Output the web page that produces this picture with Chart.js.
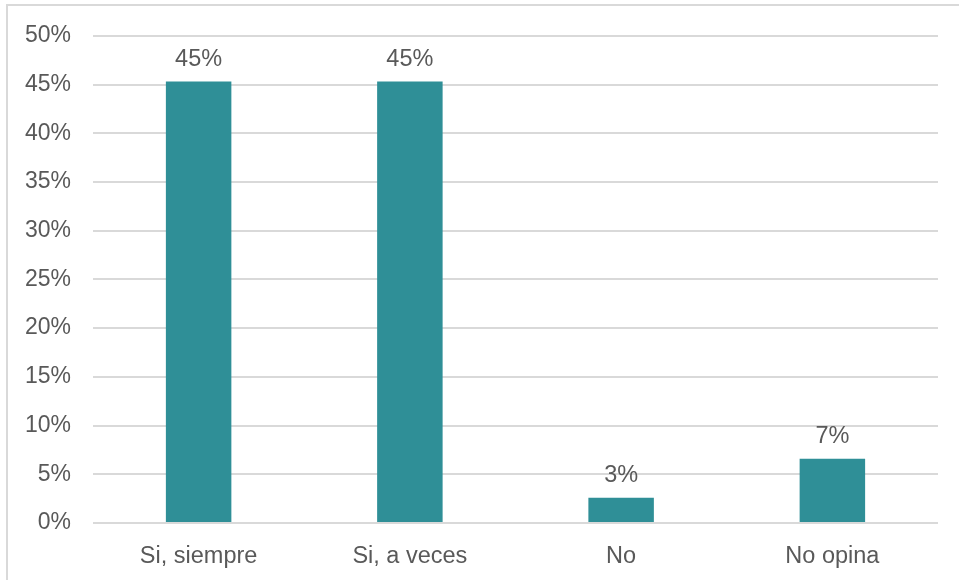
<!DOCTYPE html>
<html>
<head>
<meta charset="utf-8">
<script src="https://cdn.jsdelivr.net/npm/chart.js@4.4.1/dist/chart.umd.min.js"></script>
<style>
  html, body { margin: 0; padding: 0; background: #fff; }
  #wrap { position: relative; width: 959px; height: 580px; overflow: hidden; }
  #frame { position: absolute; left: 6px; top: 4px; width: 1000px; height: 1000px;
           border-top: 2px solid #d9d9d9; border-left: 2px solid #d9d9d9; box-sizing: border-box; }
  canvas { position: absolute; left: 0; top: 0; }
</style>
</head>
<body>
<div id="wrap">
  <div id="frame"></div>
  <canvas id="c" width="959" height="580"></canvas>
</div>
<script>
const categories = ["Si, siempre", "Si, a veces", "No", "No opina"];
const values = [45.3, 45.3, 2.6, 6.6];
const yTicks = [0, 5, 10, 15, 20, 25, 30, 35, 40, 45, 50];

const FONT = "'Liberation Sans', Arial, sans-serif";
const TEXT = "#595959";

const valueLabels = {
  id: 'valueLabels',
  afterDatasetsDraw(chart) {
    const ctx = chart.ctx;
    const meta = chart.getDatasetMeta(0);
    ctx.save();
    ctx.font = "23.5px " + FONT;
    ctx.fillStyle = TEXT;
    ctx.textAlign = 'center';
    ctx.textBaseline = 'alphabetic';
    meta.data.forEach((bar, i) => {
      ctx.fillText(Math.round(values[i]) + '%', bar.x, bar.y - 16);
    });
    ctx.restore();
  }
};

new Chart(document.getElementById('c'), {
  type: 'bar',
  data: {
    labels: categories,
    datasets: [{
      data: values,
      backgroundColor: '#2F8F97',
      barPercentage: 0.31,
      categoryPercentage: 1.0
    }]
  },
  options: {
    responsive: false,
    animation: false,
    layout: { padding: { top: 35, right: 21, bottom: 0, left: 0 } },
    plugins: { legend: { display: false }, tooltip: { enabled: false } },
    scales: {
      x: {
        grid: { display: false },
        border: { display: false },
        ticks: { color: TEXT, font: { family: FONT, size: 23.5 }, padding: 11 },
        afterFit(s) { s.height = 57; }
      },
      y: {
        min: 0, max: 50,
        afterBuildTicks(s) { s.ticks = yTicks.map(v => ({ value: v })); },
        grid: { color: '#d9d9d9', lineWidth: 2, drawTicks: false },
        border: { display: false },
        ticks: { color: TEXT, font: { family: FONT, size: 23 }, padding: 22,
                 callback: v => v + '%' },
        afterFit(s) { s.width = 93; }
      }
    }
  },
  plugins: [valueLabels]
});
</script>
</body>
</html>
